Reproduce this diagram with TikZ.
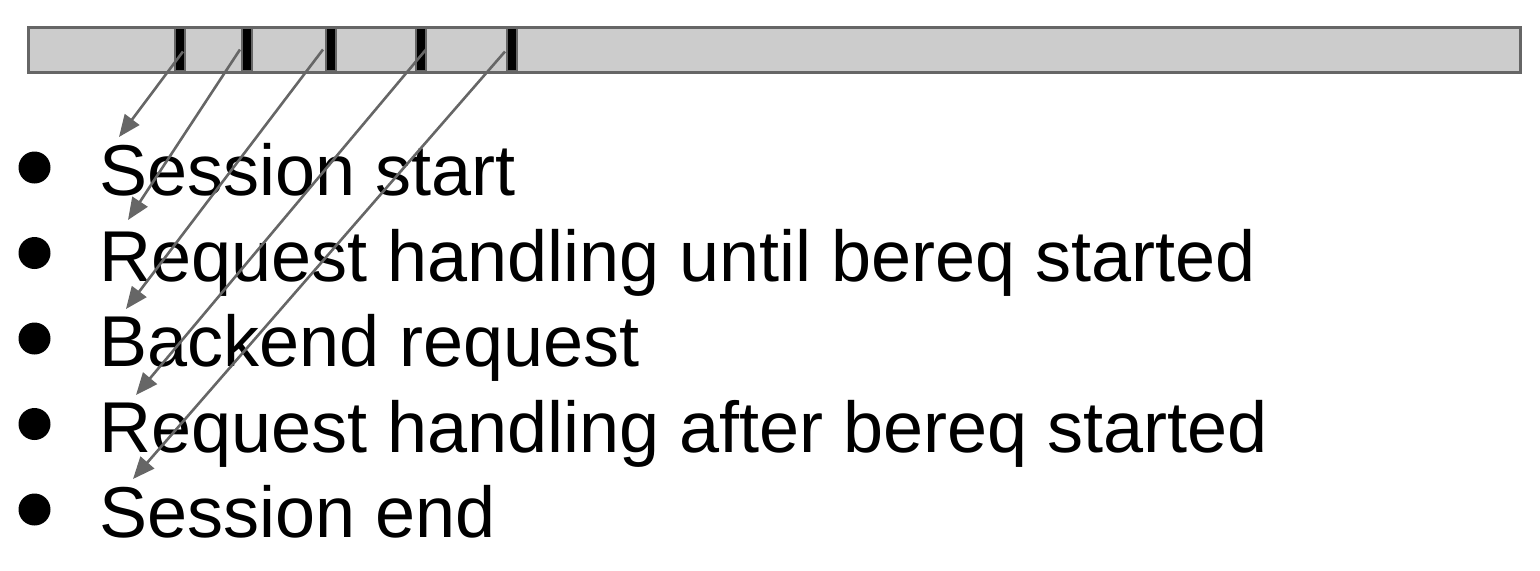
\documentclass[tikz,border=0pt]{standalone}
\usepackage{fontspec}
\setmainfont{Liberation Sans}
\usetikzlibrary{arrows.meta,positioning}
\definecolor{BarGray}{HTML}{CCCCCC}
\definecolor{EdgeGray}{HTML}{666666}
\tikzset{bar/.style={draw=EdgeGray,fill=BarGray,line width=1.5pt,inner sep=0pt,minimum width=746pt,minimum height=22.5pt},tick/.style={draw=EdgeGray,fill=black,line width=0.6pt,inner sep=0pt,minimum width=5pt,minimum height=21.5pt},item/.style={anchor=base west,inner sep=0pt,font=\fontsize{36}{43}\selectfont},bullet/.style={circle,fill=black,inner sep=0pt,minimum size=16pt},arr/.style={-{Triangle[length=11pt,width=9pt]},line width=1.3pt,EdgeGray}}

\begin{document}
\begin{tikzpicture}[x=0.5pt,y=-0.5pt]
\useasboundingbox (0,0) rectangle (1540,570);
% timeline bar with event marks
\node[bar] (timeline) at (774,49.5) {};
\node[tick] (t1) at (180,49.5) {};
\node[tick] (t2) at (247,49.5) {};
\node[tick] (t3) at (331,49.5) {};
\node[tick] (t4) at (421,49.5) {};
\node[tick] (t5) at (512,49.5) {};
% bullet list
\node[bullet] (b1) at (34.5,167.5) {}; \node[item] (i1) at (99,195.5) {Session start};
\node[bullet] (b2) at (34.5,253) {}; \node[item] (i2) at (99,281) {Request handling until bereq started};
\node[bullet] (b3) at (34.5,338.5) {}; \node[item] (i3) at (99,366.5) {Backend request};
\node[bullet] (b4) at (34.5,424) {}; \node[item] (i4) at (99,452) {Request handling after bereq started};
\node[bullet] (b5) at (34.5,509.5) {}; \node[item] (i5) at (99,537.5) {Session end};
% arrows from marks to items
\coordinate (p1) at (119,137); \coordinate (p2) at (128,220); \coordinate (p3) at (126,309);
\coordinate (p4) at (136,395); \coordinate (p5) at (133,479);
\draw[arr] ([xshift=1.5pt,yshift=-1pt]t1.center)--(p1); \draw[arr] ([xshift=-3.5pt]t2.center)--(p2);
\draw[arr] ([xshift=-4pt]t3.center)--(p3); \draw[arr] ([xshift=2.5pt]t4.center)--(p4);
\draw[arr] ([xshift=-3.5pt,yshift=-1pt]t5.center)--(p5);
\end{tikzpicture}
\end{document}
